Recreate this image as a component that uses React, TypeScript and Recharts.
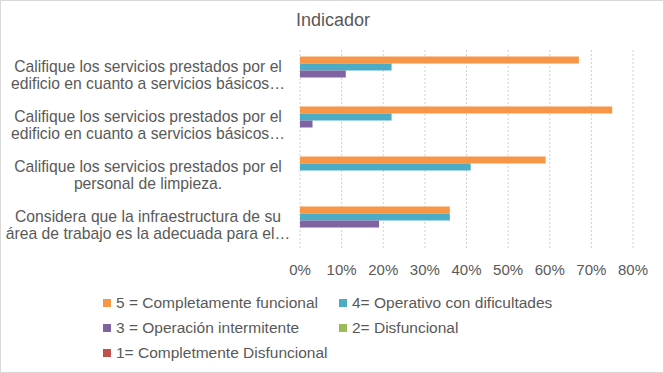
import { BarChart, Bar, XAxis, YAxis, CartesianGrid } from 'recharts';

const categories = ['c1', 'c2', 'c3', 'c4'];

const categoryLabels = [
  ['Califique los servicios prestados por el', 'edificio en cuanto a servicios básicos…'],
  ['Califique los servicios prestados por el', 'edificio en cuanto a servicios básicos…'],
  ['Califique los servicios prestados por el', 'personal de limpieza.'],
  ['Considera que la infraestructura de su', 'área de trabajo es la adecuada para el…'],
];

const completamenteFuncional = [0.67, 0.75, 0.59, 0.36];
const operativoConDificultades = [0.22, 0.22, 0.41, 0.36];
const operacionIntermitente = [0.11, 0.03, 0, 0.19];
const disfuncional = [0, 0, 0, 0];
const completmenteDisfuncional = [0, 0, 0, 0];

const xTicks = [0, 0.1, 0.2, 0.3, 0.4, 0.5, 0.6, 0.7, 0.8];

const SERIES = [
  { key: 's5', name: '5 = Completamente funcional', color: '#F79646', values: completamenteFuncional },
  { key: 's4', name: '4= Operativo con dificultades', color: '#4BACC6', values: operativoConDificultades },
  { key: 's3', name: '3 = Operación intermitente', color: '#8064A2', values: operacionIntermitente },
  { key: 's2', name: '2= Disfuncional', color: '#9BBB59', values: disfuncional },
  { key: 's1', name: '1= Completmente Disfuncional', color: '#C0504D', values: completmenteDisfuncional },
];

const FONT = '"Liberation Sans", Arial, sans-serif';
const TEXT = '#595959';

const data = categories.map((id, i) => {
  const row: Record<string, string | number> = { id };
  SERIES.forEach((s) => {
    row[s.key] = s.values[i];
  });
  return row;
});

function CategoryTick(props: { y?: number; payload?: { value: string } }) {
  const idx = categories.indexOf(props.payload?.value ?? '');
  const lines = categoryLabels[idx] ?? [];
  const y = props.y ?? 0;
  return (
    <text x={148} y={y} textAnchor="middle" fill={TEXT} fontSize={15.7} fontFamily={FONT}>
      {lines.map((line, i) => (
        <tspan key={i} x={148} y={y + (i - 0.5) * 17.5} dy="0.36em">
          {line}
        </tspan>
      ))}
    </text>
  );
}

// legend positions copied from the excel layout: two columns, three rows
const legendCols = [102, 338];
const legendRows = [302, 327, 352];

export default function App() {
  return (
    <div
      style={{
        position: 'absolute',
        left: 0,
        top: 0,
        width: 664,
        height: 373,
        background: '#fff',
        boxSizing: 'border-box',
        border: '1px solid #d9d9d9',
        fontFamily: FONT,
      }}
    >
      <div
        style={{
          position: 'absolute',
          top: 9,
          left: 0,
          width: 664,
          textAlign: 'center',
          fontSize: 18,
          color: TEXT,
        }}
      >
        Indicador
      </div>
      <div style={{ position: 'absolute', left: -1, top: -1 }}>
        <BarChart
          width={664}
          height={373}
          data={data}
          layout="vertical"
          margin={{ top: 50, right: 31, bottom: 98, left: 0 }}
          barCategoryGap="13%"
          barGap={0}
        >
          <CartesianGrid horizontal={false} stroke="#d0d0d0" strokeDasharray="2 2" />
          <XAxis
            type="number"
            domain={[0, 0.8]}
            ticks={xTicks}
            tickFormatter={(v: number) => `${Math.round(v * 100)}%`}
            axisLine={false}
            tickLine={false}
            height={25}
            tick={{ fill: TEXT, fontSize: 15, fontFamily: FONT }}
            tickMargin={8}
          />
          <YAxis
            type="category"
            dataKey="id"
            width={300}
            axisLine={false}
            tickLine={false}
            tick={<CategoryTick />}
          />
          {SERIES.map((s) => (
            <Bar key={s.key} dataKey={s.key} name={s.name} fill={s.color} isAnimationActive={false} />
          ))}
        </BarChart>
      </div>
      {SERIES.map((s, i) => (
        <div
          key={s.key}
          style={{
            position: 'absolute',
            left: legendCols[i % 2],
            top: legendRows[Math.floor(i / 2)] - 10,
            height: 20,
            display: 'flex',
            alignItems: 'center',
            fontSize: 15.5,
            color: TEXT,
            whiteSpace: 'nowrap',
          }}
        >
          <span style={{ width: 8, height: 8, background: s.color, marginRight: 5, display: 'inline-block' }} />
          {s.name}
        </div>
      ))}
    </div>
  );
}
